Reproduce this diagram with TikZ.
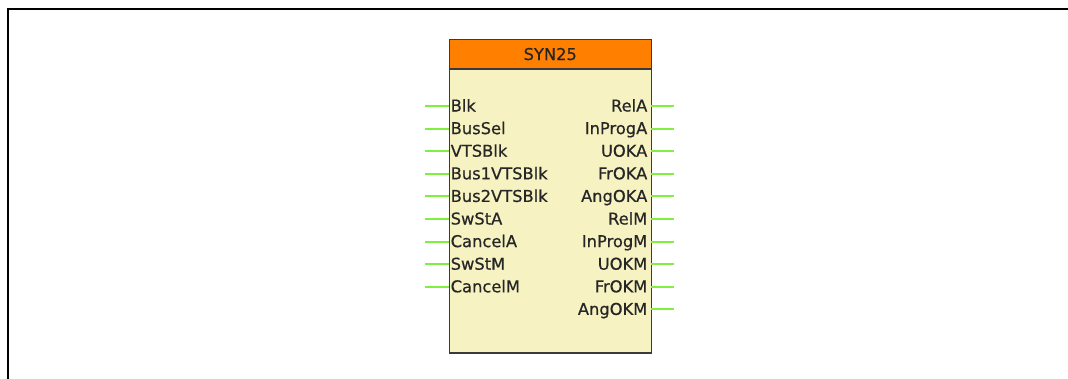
\documentclass[tikz,border=0pt]{standalone}
\usepackage{fontspec}
\newfontfamily\blkfont[FakeBold=0.6]{DejaVu Sans}
\definecolor{titleor}{HTML}{FF8000}
\definecolor{bodyyel}{HTML}{F6F2C2}
\definecolor{pingreen}{HTML}{80F040}
\definecolor{edgegray}{HTML}{3A3A3A}
\begin{document}
\begin{tikzpicture}[x=1pt,y=-1pt,
  pin/.style={draw=pingreen,line width=2pt},
  lbl/.style={inner sep=0pt,font=\blkfont\fontsize{16.3}{18}\selectfont,text=black!85},
  inlbl/.style={lbl,anchor=base west},
  outlbl/.style={lbl,anchor=base east}]
\useasboundingbox (0,0) rectangle (1068,378);
% outer frame (only top and left edges visible)
\draw[line width=2.5pt,black] (8,380) -- (8,8.8) -- (1070,8.8);
% block
\node[draw=edgegray,line width=1.5pt,fill=bodyyel,minimum width=202pt,minimum height=313.5pt,anchor=north west,inner sep=0pt] (blk) at (448.5,38.5) {};
\node[draw=edgegray,line width=1.5pt,fill=titleor,minimum width=202pt,minimum height=29.5pt,anchor=north west,inner sep=0pt] (ttl) at (448.5,38.5) {};
\node[lbl,anchor=base] (ttltxt) at ([yshift=-6pt]ttl.center) {SYN25};
% inputs
\foreach \t [count=\i from 0] in {Blk,BusSel,VTSBlk,Bus1VTSBlk,Bus2VTSBlk,SwStA,CancelA,SwStM,CancelM}{
  \coordinate (iend\i) at (425,106+22.6*\i);
  \coordinate (ibox\i) at (448.5,106+22.6*\i);
  \draw[pin] (iend\i) -- (ibox\i);
  \node[inlbl] (in\i) at (450.5,111.5+22.6*\i) {\t};
}
% outputs
\foreach \t [count=\i from 0] in {RelA,InProgA,UOKA,FrOKA,AngOKA,RelM,InProgM,UOKM,FrOKM,AngOKM}{
  \coordinate (obox\i) at (650.5,106+22.6*\i);
  \coordinate (oend\i) at (674,106+22.6*\i);
  \draw[pin] (obox\i) -- (oend\i);
  \node[outlbl] (out\i) at (647.5,111.5+22.6*\i) {\t};
}
\end{tikzpicture}
\end{document}
